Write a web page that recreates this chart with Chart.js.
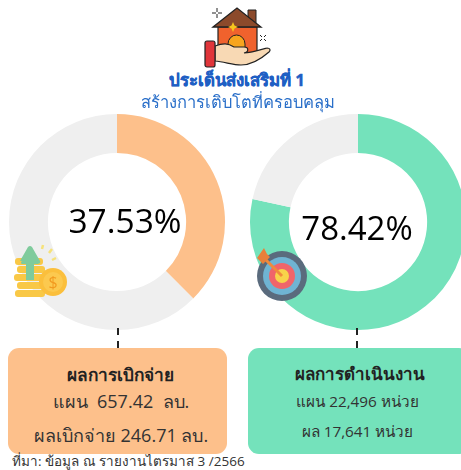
<!DOCTYPE html>
<html lang="th"><head><meta charset="utf-8">
<script src="https://cdn.jsdelivr.net/npm/chart.js@4"></script>
<style>
html,body{margin:0;padding:0;background:#fff;overflow:hidden}
body{width:461px;height:470px;position:relative;font-family:"Open Sans","Noto Sans",sans-serif;color:#222}
.abs{position:absolute}
.c{text-align:center;white-space:nowrap}
canvas{position:absolute}
.box{position:absolute;top:348px;height:106px;border-radius:11px}
.dash{position:absolute;width:2px;background:#222}
</style></head><body>
<canvas id="left" width="230" height="230" style="left:2px;top:107px;width:230px;height:230px"></canvas>
<canvas id="right" width="230" height="230" style="left:243px;top:107px;width:230px;height:230px"></canvas>

<svg class="abs" style="left:204px;top:6px" width="70" height="64" viewBox="0 0 70 64">
 <path d="M14 21h39v26H14z" fill="#f0622d" stroke="#222" stroke-width="1.200"/>
 <path d="M24 47V38a8.500 9 0 0 1 17 0v9z" fill="#f7a51e" stroke="#222" stroke-width="1"/>
 <path d="M44 4h8v14l-8-6z" fill="#8c4a2b" stroke="#222" stroke-width="1"/>
 <path d="M9 21 33 2l24 19z" fill="#8c4a2b" stroke="#222" stroke-width="1.300"/>
 <path d="M29 16l1.500 3.500 3.500 1.500-3.500 1.500-1.500 3.500-1.500-3.500-3.500-1.500 3.500-1.500z" fill="#f7c61e"/>
 <path d="M11 40c8-3 13-3 19 1h10c5 0 5 5 0 6 6 0 16-3 23-5 3 0 4 2 2 4-8 7-17 13-28 13-8 0-16-3-26-4z" fill="#f8d9b4" stroke="#222" stroke-width="1.200"/>
 <rect x="1" y="35" width="10" height="26" rx="2" fill="#e0353a" stroke="#222" stroke-width="1.200"/>
 <path d="M13 2v4M13 8v4M8 7h4M14 7h4M56 29l2 2M60 33l2 2M62 29l-2 2M58 33l-2 2" stroke="#222" stroke-width="1"/>
</svg>
<div class="abs c" style="left:0;width:474px;top:70px;font-size:16.800px;font-weight:700;color:#1f5fc4;line-height:20px;-webkit-text-stroke:.4px #1f5fc4">ประเด็นส่งเสริมที่ 1</div>
<div class="abs c" style="left:0;width:475px;top:91px;font-size:16.500px;color:#2a6fc9;line-height:22px">สร้างการเติบโตที่ครอบคลุม</div>

<div class="abs c" id="pctL" style="left:25px;width:200px;top:199px;font-size:33.500px;line-height:42px;color:#000"></div>
<div class="abs c" id="pctR" style="left:257px;width:200px;top:207px;font-size:33px;line-height:42px;color:#000"></div>

<svg class="abs" style="left:12px;top:243px" width="56" height="58" viewBox="0 0 56 58">
 <g fill="#f9c846"><rect x="3" y="15" width="28" height="7" rx="3"/><rect x="5" y="23" width="28" height="7" rx="3"/><rect x="2" y="31" width="30" height="7" rx="3"/><rect x="5" y="39" width="28" height="7" rx="3"/><rect x="3" y="47" width="30" height="7" rx="3"/></g>
 <path d="M8 18 16 4a3 3 0 0 1 4 0l8 14c1 2-1 3-3 3h-3v16h-8V21h-3c-2 0-3-1-1-3z" fill="#7fcb9c"/>
 <circle cx="41" cy="39" r="14" fill="#fbbf3c"/><circle cx="41" cy="39" r="10" fill="#fcc94f"/>
 <text x="41" y="45" font-size="16" text-anchor="middle" fill="#f29a1f">$</text>
 <path d="M31 2l-1 4M40 6l-3 4M44 15l-4 2" stroke="#f6e27a" stroke-width="2.500"/>
</svg>
<svg class="abs" style="left:256px;top:248px" width="56" height="56" viewBox="0 0 56 56">
 <circle cx="26" cy="28" r="25" fill="#5a6b7d"/><circle cx="26" cy="28" r="19" fill="#6fb4d3"/><circle cx="26" cy="28" r="13" fill="#f0656a"/><circle cx="26" cy="28" r="7" fill="#f8d34a"/>
 <path d="M26 28 10 12" stroke="#f08a3c" stroke-width="3"/>
 <path d="M1 10 8 0l3 6 3 3-7 7z" fill="#e8803a"/>
</svg>

<div class="dash" style="left:116.500px;top:328px;height:7px"></div>
<div class="dash" style="left:116.500px;top:341px;height:7px"></div>
<div class="dash" style="left:356px;top:328px;height:7px"></div>
<div class="dash" style="left:356px;top:341px;height:7px"></div>

<div class="box" style="left:8px;width:219px;background:#fdc08b"></div>
<div class="box" style="left:248px;width:222px;background:#74e2bb"></div>

<div class="abs c" style="left:9px;width:223px;top:363px;font-size:17.300px;font-weight:700;line-height:24px">ผลการเบิกจ่าย</div>
<div class="abs c" style="left:9px;width:224px;top:389px;font-size:18px;line-height:24px;color:#333">แผน&nbsp; 657.42&nbsp; ลบ.</div>
<div class="abs c" style="left:9px;width:224px;top:423px;font-size:18px;line-height:24px;color:#333">ผลเบิกจ่าย 246.71 ลบ.</div>

<div class="abs c" style="left:250px;width:220px;top:362px;font-size:17px;font-weight:700;line-height:24px">ผลการดำเนินงาน</div>
<div class="abs c" style="left:250px;width:215px;top:389px;font-size:15.300px;line-height:24px;color:#333">แผน 22,496 หน่วย</div>
<div class="abs c" style="left:250px;width:215px;top:419px;font-size:15.300px;line-height:24px;color:#333">ผล 17,641 หน่วย</div>

<div class="abs" style="left:12px;top:452px;font-size:13.500px;line-height:18px;color:#333;white-space:nowrap">ที่มา: ข้อมูล ณ รายงานไตรมาส 3 /2566</div>

<script>
const leftLabels = ["ผลเบิกจ่าย", "คงเหลือ"];
const leftValues = [37.53, 62.47];
const leftColors = ["#fdc08b", "#efefef"];
const rightLabels = ["ผล", "คงเหลือ"];
const rightValues = [78.42, 21.58];
const rightColors = ["#74e2bb", "#efefef"];

function donut(id, labels, values, colors){
  return new Chart(document.getElementById(id), {
    type: "doughnut",
    data: { labels, datasets: [{ data: values, backgroundColor: colors, borderWidth: 0 }] },
    options: {
      responsive: false, animation: false, cutout: "64%",
      layout: { padding: 7 },
      plugins: { legend: { display: false }, tooltip: { enabled: false } }
    }
  });
}
donut("left", leftLabels, leftValues, leftColors);
donut("right", rightLabels, rightValues, rightColors);
document.getElementById("pctL").textContent = leftValues[0].toFixed(2) + "%";
document.getElementById("pctR").textContent = rightValues[0].toFixed(2) + "%";
</script>
</body></html>
